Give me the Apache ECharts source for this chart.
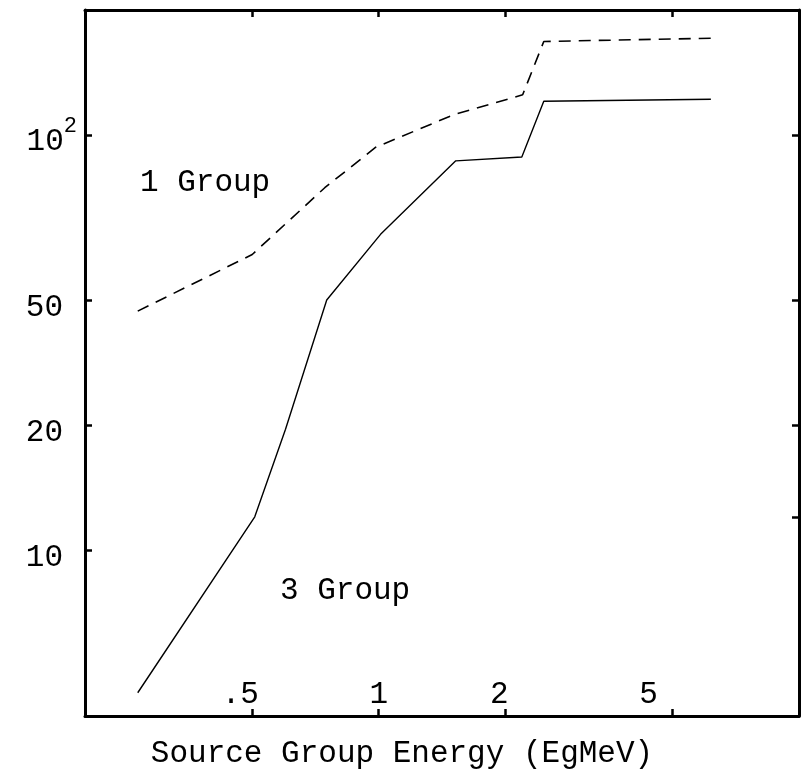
<!DOCTYPE html>
<html><head><meta charset="utf-8">
<script src="https://cdn.jsdelivr.net/npm/echarts@6/dist/echarts.min.js"></script>
<style>html,body{margin:0;padding:0;background:#fff}#c{width:807px;height:774px}</style>
</head><body><div id="c"></div>
<script>
// Source group energy (MeV) and values
const energy1 = [0.267, 0.50, 0.744, 0.984, 1.51, 2.20, 2.47, 6.17];
const group1  = [37.7, 51.6, 74.7, 93.5, 112, 125, 168, 171];
const energy3 = [0.267, 0.507, 0.600, 0.752, 1.01, 1.525, 2.19, 2.47, 6.17];
const group3  = [4.55, 12.06, 19.6, 40.1, 57.7, 86.7, 88.6, 120.6, 122];
const xTickValues = [0.5, 1, 2, 5];
const xTickLabels = ['.5', '1', '2', '5'];
const yTickValues = [10, 20, 40, 100];
const yTickLabels = ['10', '20', '50', '10^2'];
const yRightTickValues = [12, 20, 40, 100];
const seriesNames = ['1 Group', '3 Group'];
const xAxisTitle = 'Source Group Energy (EgMeV)';

const FONT = 'Liberation Mono';
const FS = 31;
function idxOf(arr, v) {
  let best = 0, bd = Infinity;
  arr.forEach((a, i) => { const d = Math.abs(Math.log(a) - Math.log(v)); if (d < bd) { bd = d; best = i; } });
  return best;
}
const xShift = ['s1', 's0', 's2', 's3'];
const chart = echarts.init(document.getElementById('c'), null, {renderer: 'canvas'});
const axisLine = {show: true, lineStyle: {color: '#000', width: 3}};
const tickStyle = {show: true, inside: true, length: 7, lineStyle: {color: '#000', width: 2.5}};
chart.setOption({
  backgroundColor: '#fff',
  animation: false,
  grid: {left: 85, right: 8, top: 10, bottom: 54},
  xAxis: [{
    type: 'log', logBase: 10, min: 0.2, max: 10, position: 'bottom',
    axisLine: axisLine,
    axisTick: Object.assign({customValues: xTickValues}, tickStyle),
    minorTick: {show: false}, splitLine: {show: false},
    axisLabel: {
      customValues: xTickValues, inside: true, margin: 6,
      fontFamily: FONT, fontSize: FS, color: '#000',
      formatter: v => { const i = idxOf(xTickValues, v); return '{' + xShift[i] + '|' + xTickLabels[i] + '}'; },
      rich: {
        s0: {fontFamily: FONT, fontSize: FS, color: '#000'},
        s1: {fontFamily: FONT, fontSize: FS, color: '#000', padding: [0, 24, 0, 0]},
        s2: {fontFamily: FONT, fontSize: FS, color: '#000', padding: [0, 12, 0, 0]},
        s3: {fontFamily: FONT, fontSize: FS, color: '#000', padding: [0, 48, 0, 0]}
      }
    },
    name: xAxisTitle, nameLocation: 'middle', nameGap: 22,
    nameTextStyle: {fontFamily: FONT, fontSize: FS, color: '#000', padding: [0, 80, 0, 0]}
  }, {
    type: 'log', logBase: 10, min: 0.2, max: 10, position: 'top',
    axisLine: axisLine,
    axisTick: Object.assign({customValues: xTickValues}, tickStyle),
    axisLabel: {show: false}, splitLine: {show: false}
  }],
  yAxis: [{
    type: 'log', logBase: 10, min: 4, max: 200, position: 'left',
    axisLine: axisLine,
    axisTick: Object.assign({customValues: yTickValues}, tickStyle),
    minorTick: {show: false}, splitLine: {show: false},
    axisLabel: {
      customValues: yTickValues, margin: 8,
      fontFamily: FONT, fontSize: FS, color: '#000',
      formatter: v => {
        const t = yTickLabels[idxOf(yTickValues, v)];
        if (t.indexOf('^') >= 0) { const p = t.split('^'); return '{b|' + p[0] + '}{sup|' + p[1] + '}'; }
        return '{n|' + t + '}';
      },
      rich: {
        n: {fontFamily: FONT, fontSize: FS, color: '#000', padding: [14, 14, 0, 0]},
        b: {fontFamily: FONT, fontSize: FS, color: '#000', padding: [14, 0, 0, 0]},
        sup: {fontFamily: FONT, fontSize: 22, color: '#000', padding: [0, 0, 18, 0]}
      }
    }
  }, {
    type: 'log', logBase: 10, min: 4, max: 200, position: 'right',
    axisLine: axisLine,
    axisTick: Object.assign({customValues: yRightTickValues}, tickStyle),
    axisLabel: {show: false}, splitLine: {show: false}
  }],
  series: [{
    name: seriesNames[0], type: 'line', showSymbol: false, symbol: 'none',
    data: energy1.map((x, i) => [x, group1[i]]),
    lineStyle: {color: '#000', width: 1.6, type: [12, 8]}
  }, {
    name: seriesNames[1], type: 'line', showSymbol: false, symbol: 'none',
    data: energy3.map((x, i) => [x, group3[i]]),
    lineStyle: {color: '#000', width: 1.4, type: 'solid'}
  }],
  graphic: [
    {type: 'text', x: 140, y: 183, style: {text: seriesNames[0], fontFamily: FONT, fontSize: FS, fill: '#000', verticalAlign: 'middle'}},
    {type: 'text', x: 280, y: 591, style: {text: seriesNames[1], fontFamily: FONT, fontSize: FS, fill: '#000', verticalAlign: 'middle'}}
  ]
});
</script></body></html>
